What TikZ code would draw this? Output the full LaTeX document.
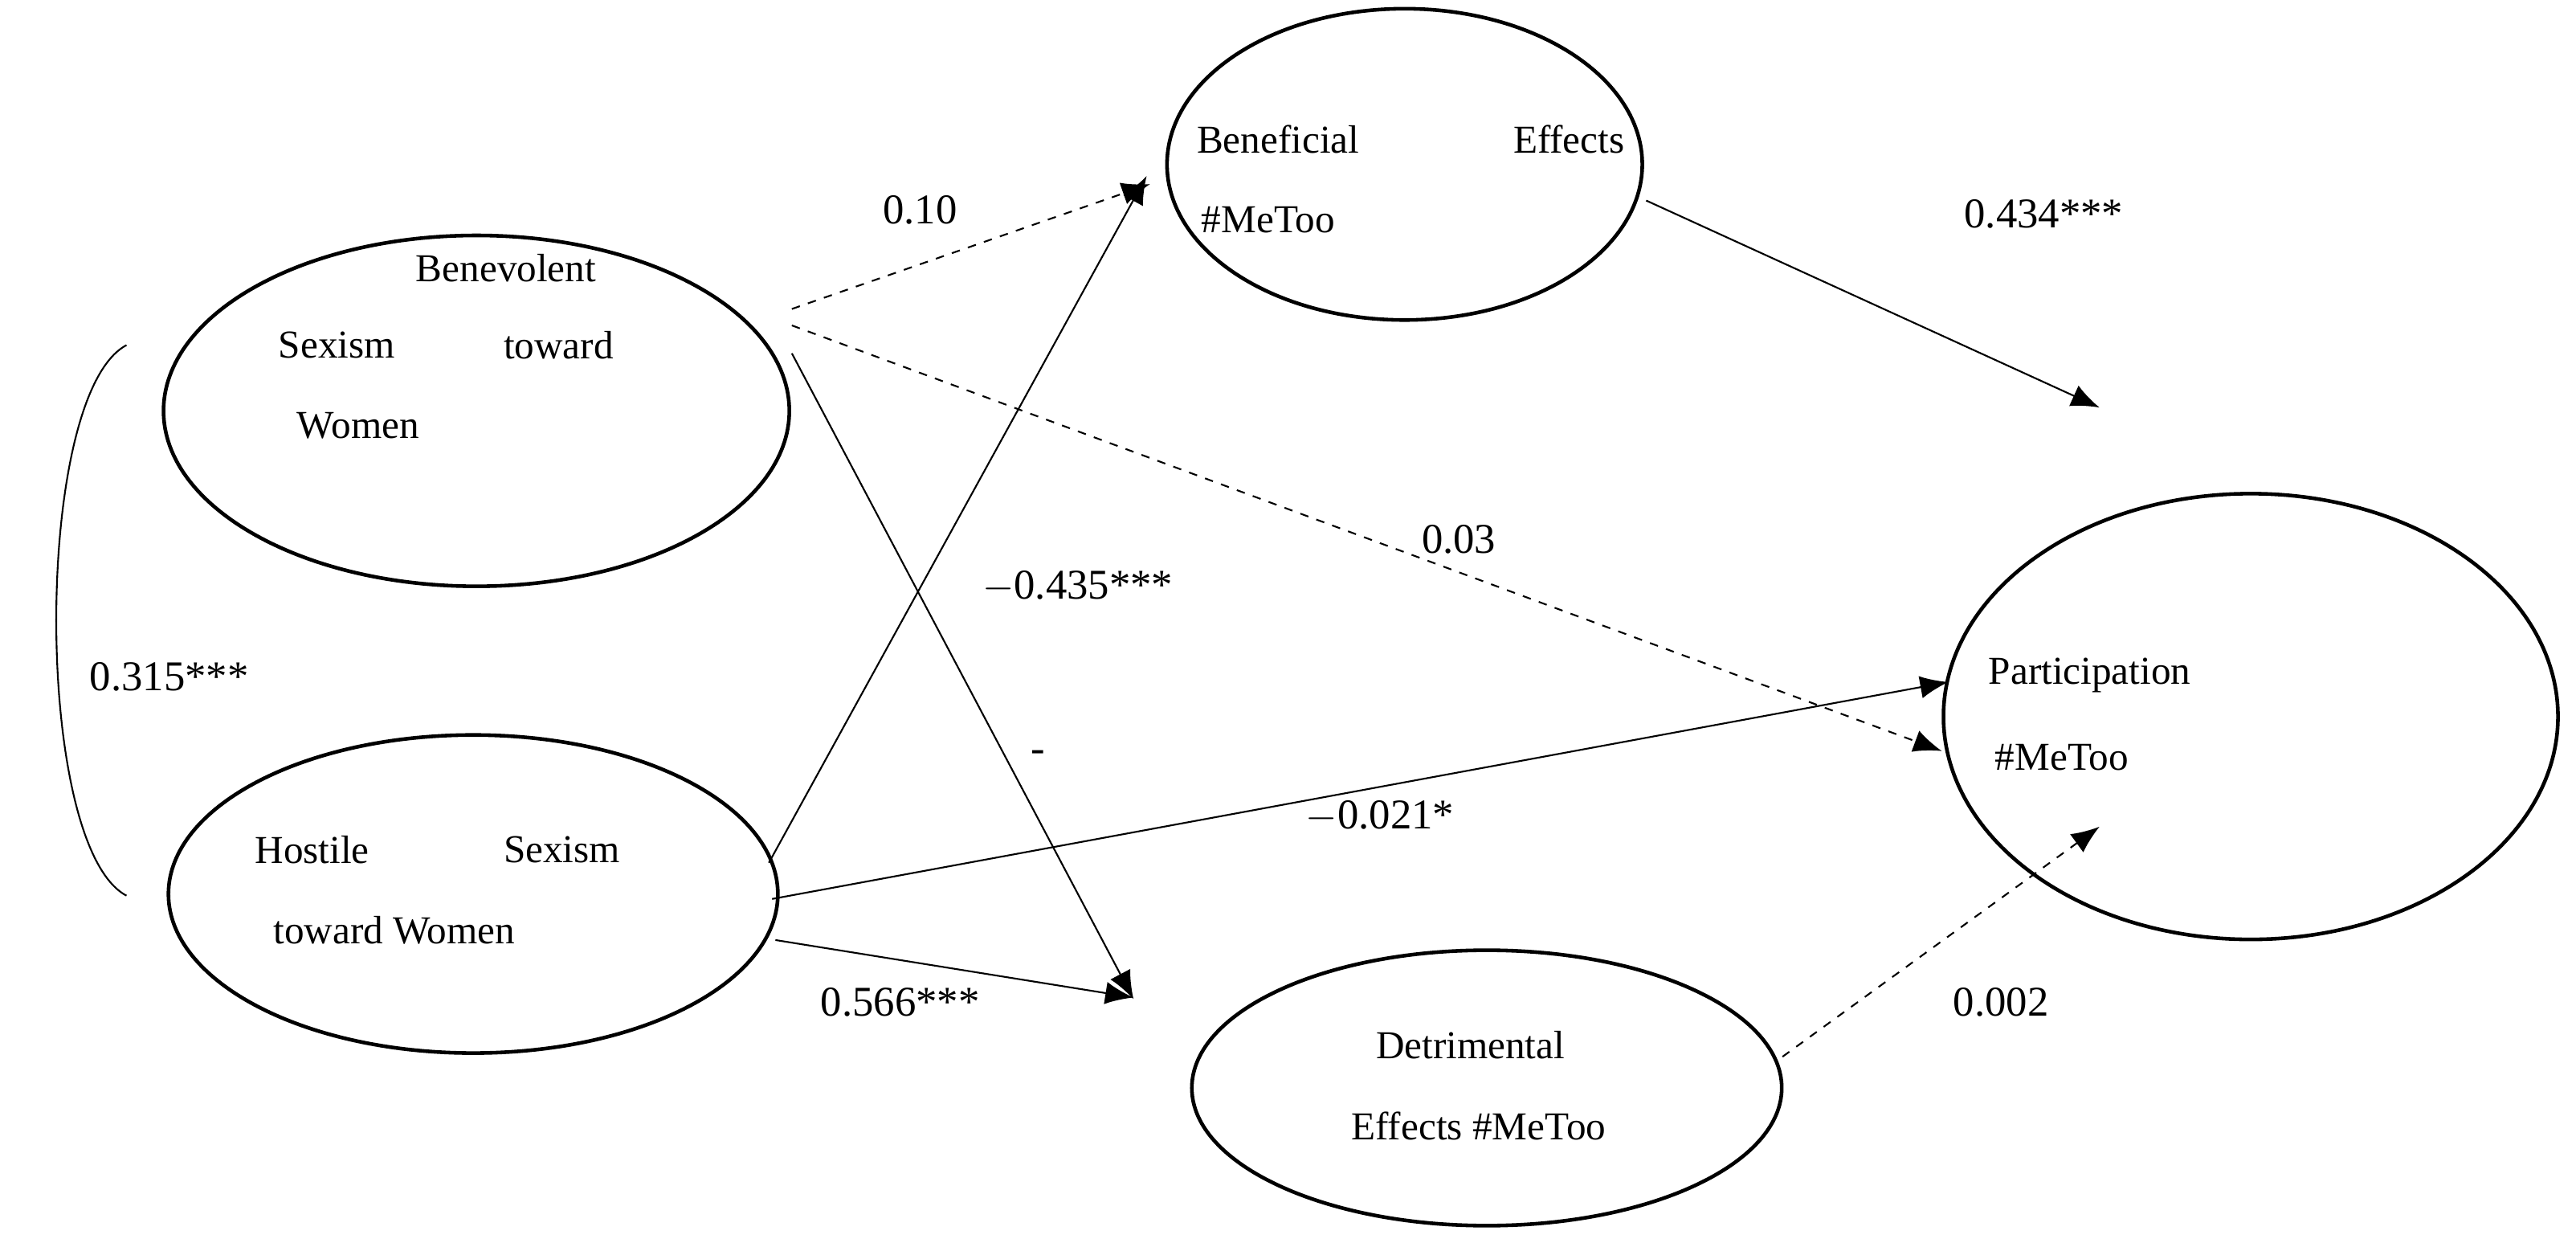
\documentclass[tikz,border=0pt]{standalone}
\usepackage{fontspec}
\setmainfont{Liberation Serif}
\usetikzlibrary{arrows.meta,shapes.geometric}
\begin{document}
\begin{tikzpicture}[x=0.02045cm,y=-0.02045cm,
  ell/.style={draw,ellipse,line width=1.3pt,inner sep=0pt},
  lbl/.style={font=\fontsize{15}{18}\selectfont,inner sep=0pt},
  txt/.style={font=\fontsize{14}{17}\selectfont,inner sep=0pt},
  arr/.style={line width=0.6pt,-{Latex[length=10pt,width=8pt]}},
  dsh/.style={arr,dashed}]
\useasboundingbox (0,0) rectangle (1568,753.5);
\node[ell,minimum width=221.6pt,minimum height=124.2pt] (ben) at (290,250) {};
\node[ell,minimum width=215.8pt,minimum height=112.6pt] (hos) at (288,544) {};
\node[ell,minimum width=168.3pt,minimum height=110.2pt] (bef) at (855,100) {};
\node[ell,minimum width=217.6pt,minimum height=157.8pt] (par) at (1370,436) {};
\node[ell,minimum width=208.9pt,minimum height=97.5pt] (det) at (905,662) {};
% texts
\node[txt] (t1) at (308,163) {Benevolent};
\node[txt] (t2) at (205,210) {Sexism};
\node[txt] (t3) at (340,210) {toward};
\node[txt] (t4) at (218,259) {Women};
\node[txt] (t5) at (190,517) {Hostile};
\node[txt] (t6) at (342,517) {Sexism};
\node[txt] (t7) at (240,566) {toward Women};
\node[txt] (t8) at (778,85) {Beneficial};
\node[txt] (t9) at (955,85) {Effects};
\node[txt] (t10) at (772,134) {\#MeToo};
\node[txt] (t11) at (1272,411) {Participation};
\node[txt] (t12) at (1255,461) {\#MeToo};
\node[txt] (t13) at (895,636) {Detrimental};
\node[txt] (t14) at (900,685) {Effects \#MeToo};
% endpoints
\coordinate (b1) at (482,188); \coordinate (bf1) at (700,112);
\coordinate (b2) at (482,198); \coordinate (p1) at (1182,457);
\coordinate (b3) at (482,215); \coordinate (d1) at (690,608);
\coordinate (h1) at (468,525); \coordinate (bf2) at (698,107);
\coordinate (h2) at (470,547); \coordinate (p2) at (1186,415);
\coordinate (h3) at (472,572); \coordinate (d2) at (690,607);
\coordinate (bf3) at (1002,122); \coordinate (p3) at (1278,248);
\coordinate (d3) at (1085,643); \coordinate (p4) at (1278,503);
\coordinate (c1) at (77,210); \coordinate (c2) at (77,545);
\draw[dsh] (b1) -- (bf1);
\draw[dsh] (b2) -- (p1);
\draw[arr] (b3) -- (d1);
\draw[arr] (h1) -- (bf2);
\draw[arr] (h2) -- (p2);
\draw[arr] (h3) -- (d2);
\draw[arr] (bf3) -- (p3);
\draw[dsh] (d3) -- (p4);
\draw[line width=0.6pt] (c1) .. controls (20,240) and (20,515) .. (c2);
% labels
\node[lbl] (l1) at (560,128) {0.10};
\node[lbl] (l2) at (888,328) {0.03};
\node[lbl] (l3) at (632,460) {-};
\node[lbl] (l4) at (656,357) {$-$0.435***};
\node[lbl] (l5) at (840,497) {$-$0.021*};
\node[lbl] (l6) at (548,610) {0.566***};
\node[lbl] (l7) at (1244,130) {0.434***};
\node[lbl] (l8) at (1218,610) {0.002};
\node[lbl] (l9) at (103,412) {0.315***};
\end{tikzpicture}
\end{document}
